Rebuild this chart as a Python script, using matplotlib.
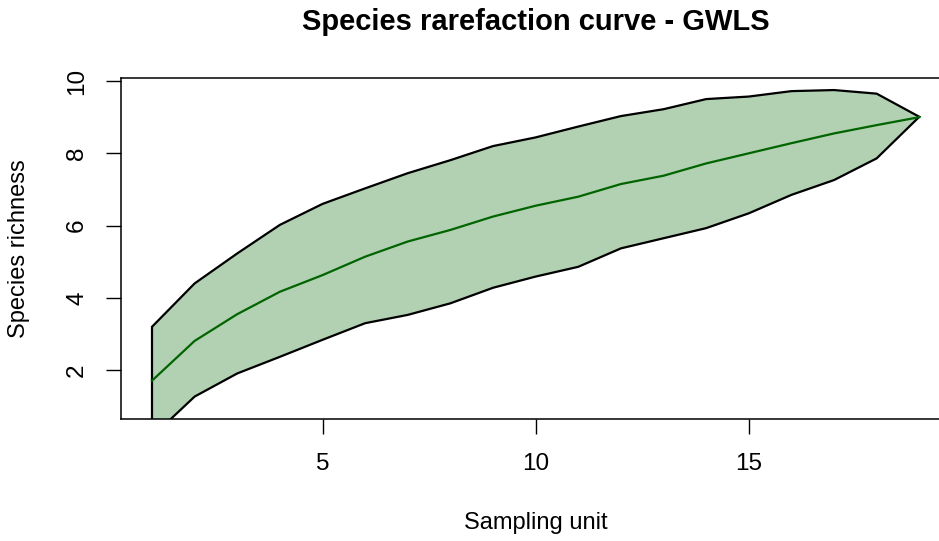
import matplotlib
matplotlib.use("Agg")
import matplotlib.pyplot as plt

plt.rcParams['font.family'] = ['Liberation Sans', 'DejaVu Sans']

sampling_unit = list(range(1, 20))
richness_mean = [1.71, 2.81, 3.55, 4.17, 4.63, 5.14, 5.56, 5.88, 6.25, 6.55,
                 6.80, 7.15, 7.38, 7.72, 8.00, 8.28, 8.55, 8.78, 9.00]
richness_upper = [3.20, 4.40, 5.23, 6.02, 6.60, 7.03, 7.45, 7.81, 8.20, 8.44,
                  8.74, 9.03, 9.22, 9.50, 9.57, 9.72, 9.75, 9.65, 9.01]
richness_lower = [0.16, 1.27, 1.91, 2.37, 2.84, 3.30, 3.53, 3.85, 4.28, 4.59,
                  4.86, 5.37, 5.65, 5.93, 6.34, 6.85, 7.26, 7.86, 9.01]
x_ticks = [5, 10, 15]
y_ticks = [2, 4, 6, 8, 10]

W, H = 939, 541
fig = plt.figure(figsize=(W / 100, H / 100), dpi=100)
left_px, right_px, top_px, bottom_px = 121.3, 950.0, 78.3, 418.7
ax = fig.add_axes([left_px / W, 1 - bottom_px / H,
                   (right_px - left_px) / W, (bottom_px - top_px) / H])

poly_x = sampling_unit + sampling_unit[::-1]
poly_y = richness_upper + richness_lower[::-1]
ax.fill(poly_x, poly_y, facecolor='#b2d0b2', edgecolor='black', linewidth=1.6,
        joinstyle='miter')
ax.plot(sampling_unit, richness_mean, color='#006400', linewidth=1.6)

ax.set_xlim(0.28, 19.72)
ax.set_ylim(0.658, 10.075)
ax.set_xticks(x_ticks)
ax.set_yticks(y_ticks)
ax.tick_params(axis='both', length=10.8, width=1.0, labelsize=17.5, color='black')
ax.tick_params(axis='x', pad=14)
ax.tick_params(axis='y', pad=13)
for lab in ax.get_yticklabels():
    lab.set_rotation(90)
    lab.set_va('center')
for s in ax.spines.values():
    s.set_linewidth(1.1)

ax.set_xlabel('Sampling unit', fontsize=17, va='center')
ax.xaxis.set_label_coords(0.5, -(523 - bottom_px) / (bottom_px - top_px))
ax.set_ylabel('Species richness', fontsize=17, va='center')
ax.yaxis.set_label_coords(-(left_px - 19) / (right_px - left_px), 0.5)

fig.text((left_px + right_px) / 2 / W, 1 - 22 / H, 'Species rarefaction curve - GWLS',
         fontsize=21, fontweight='bold', ha='center', va='center')

fig.savefig('out.png', dpi=100)
